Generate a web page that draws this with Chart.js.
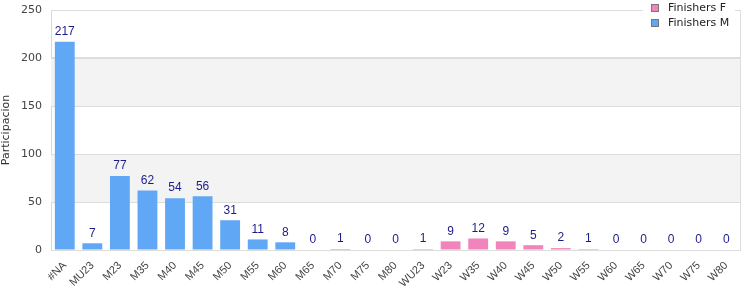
<!DOCTYPE html>
<html>
<head>
<meta charset="utf-8">
<script src="https://cdn.jsdelivr.net/npm/chart.js@4/dist/chart.umd.min.js"></script>
<style>
  html, body { margin: 0; padding: 0; background: #fff; }
  #wrap { width: 750px; height: 300px; }
</style>
</head>
<body>
<div id="wrap"><canvas id="chart" width="750" height="300"></canvas></div>
<script>
// categorias
const categories = ['#NA', 'MU23', 'M23', 'M35', 'M40', 'M45', 'M50', 'M55', 'M60', 'M65', 'M70', 'M75', 'M80',
    'WU23', 'W23', 'W35', 'W40', 'W45', 'W50', 'W55', 'W60', 'W65', 'W70', 'W75', 'W80'];

// finishers por categoria (null = no aplica)
const finishersM = [217, 7, 77, 62, 54, 56, 31, 11, 8, 0, 1, 0, 0,
    null, null, null, null, null, null, null, null, null, null, null, null];
const finishersF = [null, null, null, null, null, null, null, null, null, null, null, null, null,
    1, 9, 12, 9, 5, 2, 1, 0, 0, 0, 0, 0];

const yTicks = [0, 50, 100, 150, 200, 250];

const colorF = '#f284bc';
const colorM = '#60a8f5';

// bandas grises alternas
const bandsPlugin = {
    id: 'bands',
    beforeDatasetsDraw(chart) {
        const ctx = chart.ctx;
        const y = chart.scales.y;
        const area = chart.chartArea;
        ctx.save();
        ctx.fillStyle = '#f3f3f3';
        [[50, 100], [150, 200]].forEach(([a, b]) => {
            const top = y.getPixelForValue(b);
            const bottom = y.getPixelForValue(a);
            ctx.fillRect(area.left, top, area.right - area.left, bottom - top);
        });
        // volver a pintar lineas de rejilla sobre las bandas
        ctx.strokeStyle = '#dddddd';
        ctx.lineWidth = 1;
        yTicks.forEach(v => {
            const py = Math.round(y.getPixelForValue(v)) + 0.5;
            ctx.beginPath();
            ctx.moveTo(area.left, py);
            ctx.lineTo(area.right, py);
            ctx.stroke();
        });
        ctx.restore();
    }
};

// etiquetas de valor sobre cada barra
const valueLabels = {
    id: 'valueLabels',
    afterDatasetsDraw(chart) {
        const ctx = chart.ctx;
        ctx.save();
        ctx.font = '12px "Liberation Sans", Arial, sans-serif';
        ctx.fillStyle = '#1c1c88';
        ctx.textAlign = 'center';
        ctx.textBaseline = 'bottom';
        categories.forEach((c, i) => {
            const dsIndex = finishersM[i] !== null ? 1 : 0;
            const value = dsIndex === 1 ? finishersM[i] : finishersF[i];
            const el = chart.getDatasetMeta(dsIndex).data[i];
            if (!el) return;
            ctx.fillText(String(value), el.x, el.y - 4);
        });
        ctx.restore();
    }
};

// leyenda arriba a la derecha con fondo blanco
const cornerLegend = {
    id: 'cornerLegend',
    afterDraw(chart) {
        const ctx = chart.ctx;
        const area = chart.chartArea;
        const x0 = area.right - 97;
        ctx.save();
        ctx.fillStyle = '#ffffff';
        ctx.fillRect(x0, 0, 92, 32);
        const items = [['Finishers F', colorF], ['Finishers M', colorM]];
        items.forEach(([label, color], k) => {
            const yy = 4 + k * 15;
            ctx.fillStyle = color;
            ctx.fillRect(x0 + 8, yy, 8, 8);
            ctx.strokeStyle = '#777';
            ctx.lineWidth = 1;
            ctx.strokeRect(x0 + 8.5, yy + 0.5, 7, 7);
            ctx.fillStyle = '#222';
            ctx.font = '11px "DejaVu Sans", sans-serif';
            ctx.textAlign = 'left';
            ctx.textBaseline = 'middle';
            ctx.fillText(label, x0 + 25, yy + 4);
        });
        ctx.restore();
    }
};

const ctx = document.getElementById('chart').getContext('2d');
new Chart(ctx, {
    type: 'bar',
    data: {
        labels: categories,
        datasets: [
            {
                label: 'Finishers F',
                data: finishersF,
                backgroundColor: colorF,
                borderWidth: 0
            },
            {
                label: 'Finishers M',
                data: finishersM,
                backgroundColor: colorM,
                borderWidth: 0
            }
        ]
    },
    options: {
        responsive: false,
        animation: false,
        layout: {
            padding: { top: 10, right: 10, left: 0, bottom: 0 }
        },
        datasets: {
            bar: { categoryPercentage: 1, barPercentage: 0.72 }
        },
        plugins: {
            legend: { display: false },
            tooltip: { enabled: false }
        },
        scales: {
            x: {
                stacked: true,
                grid: { display: false, drawTicks: false },
                border: { color: '#d8d8d8' },
                ticks: {
                    color: '#444',
                    font: { family: '"Liberation Sans", Arial, sans-serif', size: 11 },
                    maxRotation: 45,
                    minRotation: 45,
                    autoSkip: false,
                    padding: 9
                },
                afterFit(scale) {
                    scale.height = 50;
                    scale.paddingLeft = 0;
                    scale.paddingRight = 0;
                }
            },
            y: {
                stacked: true,
                min: 0,
                max: 250,
                afterBuildTicks(scale) { scale.ticks = yTicks.map(v => ({ value: v })); },
                grid: { color: '#dddddd', drawTicks: false },
                border: { color: '#d8d8d8' },
                ticks: {
                    color: '#444',
                    font: { family: '"DejaVu Sans", sans-serif', size: 11 },
                    padding: 9
                },
                title: {
                    display: true,
                    text: 'Participacion',
                    color: '#333',
                    font: { family: '"DejaVu Sans", sans-serif', size: 11 },
                    padding: { top: 0, bottom: 4 }
                },
                afterFit(scale) {
                    scale.width = 51;
                    scale.paddingTop = 0;
                    scale.paddingBottom = 0;
                }
            }
        }
    },
    plugins: [bandsPlugin, valueLabels, cornerLegend, {
        id: 'frame',
        afterDatasetsDraw(chart) {
            const c = chart.ctx;
            const a = chart.chartArea;
            c.save();
            c.strokeStyle = '#dddddd';
            c.lineWidth = 1;
            c.beginPath();
            c.moveTo(Math.round(a.right) + 0.5, a.top);
            c.lineTo(Math.round(a.right) + 0.5, a.bottom);
            c.stroke();
            c.restore();
        }
    }]
});
</script>
</body>
</html>
